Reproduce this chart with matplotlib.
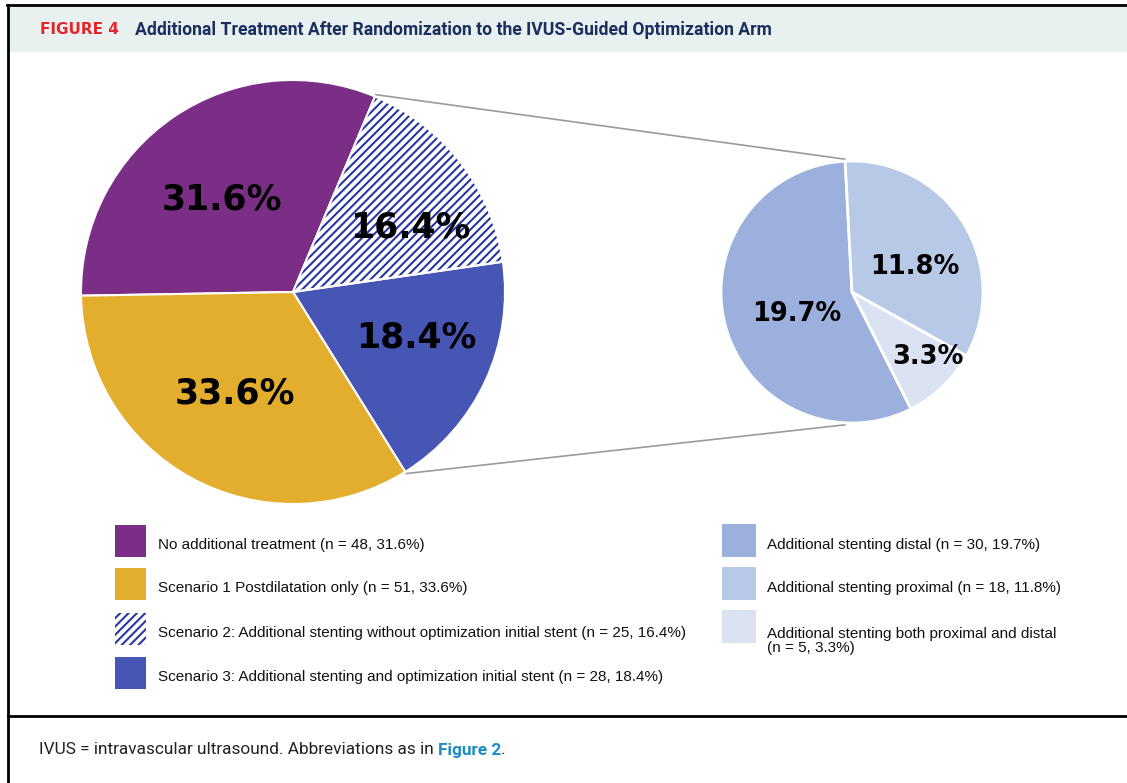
import numpy as np
import matplotlib as mpl
from matplotlib import pyplot as plt
from matplotlib.patches import Rectangle, Wedge

W, H = 1127, 783

# main pie (legend order)
main_labels = ['No additional treatment (n = 48, 31.6%)',
               'Scenario 1 Postdilatation only (n = 51, 33.6%)',
               'Scenario 2: Additional stenting without optimization initial stent (n = 25, 16.4%)',
               'Scenario 3: Additional stenting and optimization initial stent (n = 28, 18.4%)']
main_pct = [31.6, 33.6, 16.4, 18.4]
main_colors = ['#7a2e86', '#e3ae2e', 'white', '#4756b5']
main_hatch = [None, None, '////', None]

# breakdown pie of scenario 2 + 3
sub_labels = ['Additional stenting distal (n = 30, 19.7%)',
              'Additional stenting proximal (n = 18, 11.8%)',
              'Additional stenting both proximal and distal\n(n = 5, 3.3%)']
sub_pct = [19.7, 11.8, 3.3]
sub_colors = ['#9bb0dc', '#b8c9e7', '#dbe3f3']

navy = '#2736a2'
mpl.rcParams['hatch.linewidth'] = 1.5
mpl.rcParams['hatch.color'] = navy

fig = plt.figure(figsize=(W / 100, H / 100), dpi=100)
ax = fig.add_axes([0, 0, 1, 1])

def Y(y):
    return H - y

# frame / header / footer
ax.add_patch(Rectangle((9, Y(52)), W, 45, fc='#e8f0f0', ec='none'))
ax.plot([7, W], [Y(5), Y(5)], color='black', lw=2)
ax.plot([8, 8], [Y(5), 0], color='black', lw=2)
ax.plot([8, W], [Y(716), Y(716)], color='black', lw=2)
ax.text(40, Y(30), 'FIGURE 4', color='#e2262c', fontsize=11, fontweight='bold',
        family='DejaVu Sans', va='center')
ax.text(135, Y(30), 'Additional Treatment After Randomization to the IVUS-Guided Optimization Arm',
        color='#1b2f5f', fontsize=12.7, fontweight='bold', family='Roboto', va='center')
ff = dict(fontsize=12.4, family='Roboto', va='center')
t = ax.text(39, Y(750), 'IVUS = intravascular ultrasound. Abbreviations as in ', color='#222222', **ff)
t2 = ax.annotate('Figure 2', xycoords=t, xy=(1, 0.5), ha='left', fontweight='bold',
                 color='#1f8bc4', **ff)
ax.annotate('.', xycoords=t2, xy=(1, 0.5), ha='left', color='#222222', **ff)

# main pie, drawn clockwise: purple, hatched, blue, yellow
order = [0, 2, 3, 1]
c1 = (293, Y(292))
r1 = 212
w1, _ = ax.pie([main_pct[i] for i in order], colors=[main_colors[i] for i in order],
               center=c1, radius=r1, startangle=181, counterclock=False, frame=True,
               wedgeprops=dict(ec='white', lw=1.5))
for w, i in zip(w1, order):
    if main_hatch[i]:
        w.set_hatch(main_hatch[i])
        w.set_edgecolor(navy)
        w.set_linewidth(0)
        ax.add_patch(Wedge(w.center, w.r, w.theta1, w.theta2, fc='none', ec='white', lw=1.5))

# breakdown pie
sorder = [0, 2, 1]
c2 = (852, Y(292))
r2 = 131
w2, _ = ax.pie([sub_pct[i] for i in sorder], colors=[sub_colors[i] for i in sorder],
               center=c2, radius=r2, startangle=93, counterclock=True, frame=True,
               wedgeprops=dict(ec='white', lw=2))

# connector lines from the scenario 2+3 group
top = np.deg2rad(w1[1].theta2)
bot = np.deg2rad(w1[2].theta1)
a2 = np.deg2rad(93)
for a, b in [(top, a2), (bot, -a2)]:
    ax.plot([c1[0] + (r1 + 2) * np.cos(a), c2[0] + (r2 + 2) * np.cos(b)],
            [c1[1] + (r1 + 2) * np.sin(a), c2[1] + (r2 + 2) * np.sin(b)],
            color='#9a9a9a', lw=1.2, zorder=0)

# slice labels
big = dict(fontsize=25, fontweight='bold', family='DejaVu Sans', ha='center', va='center')
small = dict(fontsize=18.5, fontweight='bold', family='DejaVu Sans', ha='center', va='center')
main_pos = [(222, 200), (235, 393), (410, 228), (416, 337)]
for p, (x, y) in zip(main_pct, main_pos):
    ax.text(x, Y(y), f'{p}%', **big)
sub_pos = [(797, 314), (915, 267), (928, 357)]
for p, (x, y) in zip(sub_pct, sub_pos):
    ax.text(x, Y(y), f'{p}%', **small)

# legends
lf = dict(fontsize=11, family=['Liberation Sans', 'DejaVu Sans'], va='center', color='#111111')
for i, (lab, col) in enumerate(zip(main_labels, main_colors)):
    yc = [541, 584, 629, 673][i]
    ax.add_patch(Rectangle((115, Y(yc + 16)), 31, 32, fc=col,
                           ec=navy if main_hatch[i] else 'none',
                           hatch=main_hatch[i], lw=0))
    ax.text(158, Y(yc + 4), lab, **lf)
for i, (lab, col) in enumerate(zip(sub_labels, sub_colors)):
    yc = [541, 584, 627][i]
    ax.add_patch(Rectangle((722, Y(yc + 16)), 34, 33, fc=col, ec='none'))
    ax.text(767, Y([545, 588, 641][i]), lab, linespacing=1.05, **lf)

ax.set_xlim(0, W)
ax.set_ylim(0, H)
ax.set_aspect('auto')
ax.axis('off')
fig.savefig('out.png', dpi=100)
